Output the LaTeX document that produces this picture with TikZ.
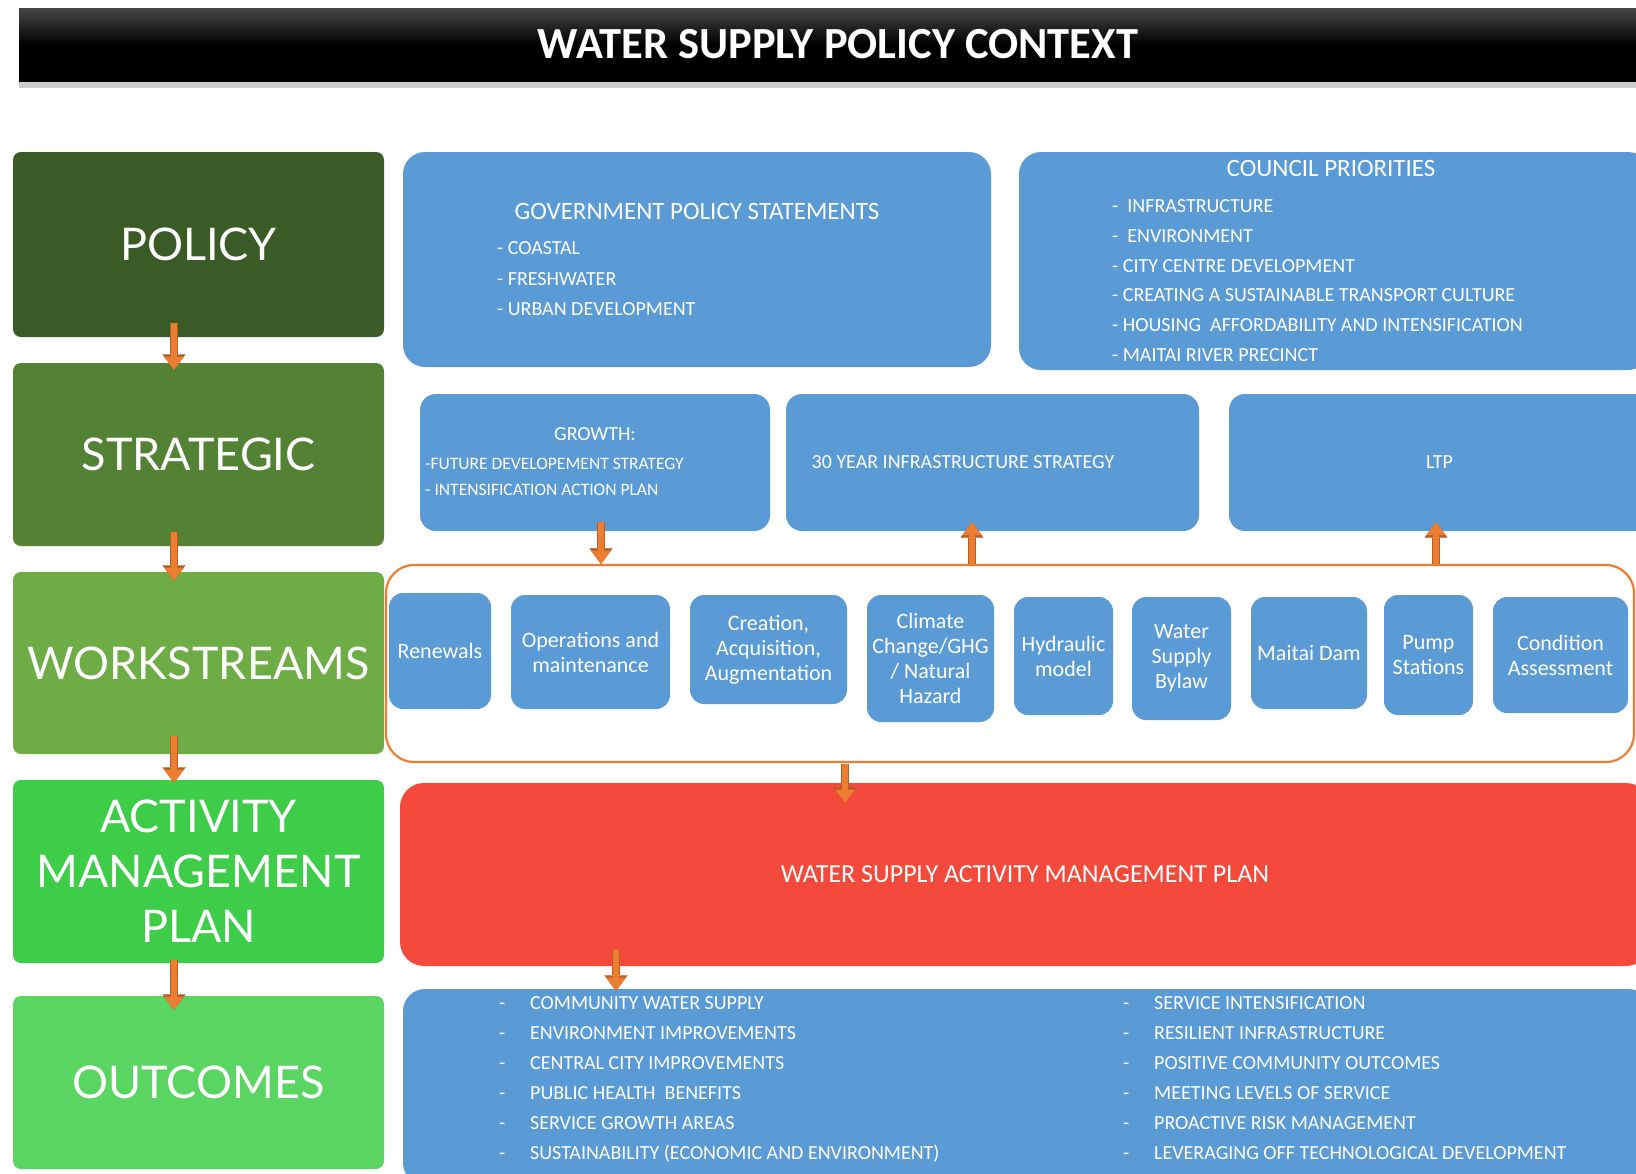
\documentclass[tikz,border=0pt]{standalone}
\usepackage{fontspec}
\setmainfont{Carlito}
\newfontfamily\gillfont{Lato}
\usetikzlibrary{arrows.meta, shadows, positioning}

\definecolor{wsblue}{HTML}{5B9BD5}
\definecolor{policygreen}{HTML}{3A5A26}
\definecolor{strategicgreen}{HTML}{548235}
\definecolor{workgreen}{HTML}{6EAD46}
\definecolor{ampgreen}{HTML}{3ECD48}
\definecolor{outgreen}{HTML}{5AD561}
\definecolor{planred}{HTML}{F44A3C}
\definecolor{flowor}{HTML}{ED7D31}
\definecolor{flowdark}{HTML}{B55D22}

\tikzstyle{titlebar}=[top color=black!72, bottom color=black, middle color=black, text=white, inner sep=0pt, minimum width=1638pt, minimum height=73pt, font=\bfseries\fontsize{44.5}{50}\selectfont, drop shadow={shadow xshift=0pt, shadow yshift=-7pt, opacity=0.2, fill=black}]
\tikzstyle{level}=[rounded corners=8pt, text=white, font=\gillfont\fontsize{45}{55}\selectfont, align=center, minimum width=371pt, inner sep=0pt]
\tikzstyle{panel}=[fill=wsblue, rounded corners=22pt, inner sep=0pt, text=white, font=\fontsize{20}{24}\selectfont]
\tikzstyle{stream}=[fill=wsblue, rounded corners=14pt, text=white, font=\fontsize{22}{25}\selectfont, align=center, inner sep=0pt]
\tikzstyle{ptext}=[text=white, inner sep=0pt, text height=13pt, text depth=0pt, font=\fontsize{20}{24}\selectfont]
\tikzstyle{flow}=[draw=flowor, line width=6pt, -{Triangle[width=19pt, length=13pt, line width=0.1pt]},
    preaction={draw=flowdark, line width=8.5pt, -{Triangle[width=23pt, length=15.5pt, line width=0.1pt]}}]

\begin{document}
\begin{tikzpicture}[x=1pt, y=-1pt]
    \useasboundingbox (0,0) rectangle (1636,1173);
    \node [titlebar] (title) at (838,44.5) {WATER SUPPLY POLICY CONTEXT};

    \node [level, fill=policygreen, minimum height=185pt] (policy) at (198.5,244.5) {POLICY};
    \node [level, fill=strategicgreen, minimum height=183pt] (strategic) at (198.5,454.5) {STRATEGIC};
    \node [level, fill=workgreen, minimum height=182pt] (workstreams) at (198.5,663) {WORKSTREAMS};
    \node [level, fill=ampgreen, minimum height=183pt] (amp) at (198.5,871.5) {ACTIVITY\\MANAGEMENT\\PLAN};
    \node [level, fill=outgreen, minimum height=173pt] (outcomes) at (198.5,1082.5) {OUTCOMES};

    \node [panel, minimum width=588pt, minimum height=215pt] (gps) at (697,259.5) {};
    \node [ptext, font=\fontsize{25}{30}\selectfont] (gpshead) at (697,213) {GOVERNMENT POLICY STATEMENTS};
    \foreach \t [count=\i] in {- COASTAL, - FRESHWATER, - URBAN DEVELOPMENT}
        \node [ptext, anchor=west] (gps\i) at (497,248+30.5*\i-30.5) {\t};

    \node [panel, minimum width=631pt, minimum height=218pt] (council) at (1334.5,261) {};
    \node [ptext, font=\fontsize{25}{30}\selectfont] (councilhead) at (1331,170) {COUNCIL PRIORITIES};
    \foreach \t [count=\i] in {-\ \ INFRASTRUCTURE, -\ \ ENVIRONMENT, - CITY CENTRE DEVELOPMENT,
        - CREATING A SUSTAINABLE TRANSPORT CULTURE, - HOUSING\ \ AFFORDABILITY AND INTENSIFICATION,
        - MAITAI RIVER PRECINCT}
        \node [ptext, anchor=west] (council\i) at (1112,206+29.8*\i-29.8) {\t};

    \node [panel, rounded corners=16pt, minimum width=350pt, minimum height=137pt] (growth) at (595,462.5) {};
    \node [ptext] (growthhead) at (595,434) {GROWTH:};
    \node [ptext, anchor=west, font=\fontsize{17.5}{21}\selectfont] (growth1) at (425,463) {-FUTURE DEVELOPEMENT STRATEGY};
    \node [ptext, anchor=west, font=\fontsize{17.5}{21}\selectfont] (growth2) at (425,489) {- INTENSIFICATION ACTION PLAN};
    \node [panel, rounded corners=16pt, minimum width=413pt, minimum height=137pt] (thirty) at (992.5,462.5) {};
    \node [ptext] (thirtytext) at (963,462) {30 YEAR INFRASTRUCTURE STRATEGY};
    \node [panel, rounded corners=16pt, minimum width=421pt, minimum height=137pt] (ltp) at (1439.5,462.5) {LTP};

    \node [draw=flowor, line width=2.2pt, rounded corners=28pt, minimum width=1248pt, minimum height=197pt] (ws) at (1010,663.5) {};
    \node [stream, minimum width=102pt, minimum height=116pt] (renew) at (440,651) {Renewals};
    \node [stream, minimum width=159pt, minimum height=114pt] (ops) at (590.5,652) {Operations and\\maintenance};
    \node [stream, minimum width=157pt, minimum height=109pt] (create) at (768.5,649.5) {Creation,\\Acquisition,\\Augmentation};
    \node [stream, minimum width=127pt, minimum height=127pt] (climate) at (930.5,658.5) {Climate\\Change/GHG\\/ Natural\\Hazard};
    \node [stream, minimum width=99pt, minimum height=118pt] (hydro) at (1063.5,656) {Hydraulic\\model};
    \node [stream, minimum width=99pt, minimum height=123pt] (bylaw) at (1181.5,658.5) {Water\\Supply\\Bylaw};
    \node [stream, minimum width=116pt, minimum height=112pt] (dam) at (1309,653) {Maitai Dam};
    \node [stream, minimum width=89pt, minimum height=120pt] (pump) at (1428.5,655) {Pump\\Stations};
    \node [stream, minimum width=135pt, minimum height=116pt] (cond) at (1560.5,655) {Condition\\Assessment};

    \node [fill=planred, rounded corners=24pt, minimum width=1250pt, minimum height=183pt, text=white, font=\fontsize{26}{30}\selectfont] (plan) at (1025,874.5) {WATER SUPPLY ACTIVITY MANAGEMENT PLAN};

    \node [panel, minimum width=1247pt, minimum height=196pt] (goals) at (1026.5,1087) {};
    \foreach \t [count=\i] in {COMMUNITY WATER SUPPLY, ENVIRONMENT IMPROVEMENTS, CENTRAL CITY IMPROVEMENTS,
        PUBLIC HEALTH\ \ BENEFITS, SERVICE GROWTH AREAS, SUSTAINABILITY (ECONOMIC AND ENVIRONMENT)}
        \node [ptext, anchor=west] (goalL\i) at (499,1003+30*\i-30) {\makebox[31pt][l]{-}\t};
    \foreach \t [count=\i] in {SERVICE INTENSIFICATION, RESILIENT INFRASTRUCTURE, POSITIVE COMMUNITY OUTCOMES,
        MEETING LEVELS OF SERVICE, PROACTIVE RISK MANAGEMENT, LEVERAGING OFF TECHNOLOGICAL DEVELOPMENT}
        \node [ptext, anchor=west] (goalR\i) at (1123,1003+30*\i-30) {\makebox[31pt][l]{-}\t};

    \draw [flow] ([xshift=-24.5pt,yshift=14pt]policy.south) -- ([xshift=-24.5pt,yshift=-7pt]strategic.north);
    \draw [flow] ([xshift=-24.5pt,yshift=14pt]strategic.south) -- ([xshift=-24.5pt,yshift=-9pt]workstreams.north);
    \draw [flow] ([xshift=-24.5pt,yshift=18pt]workstreams.south) -- ([xshift=-24.5pt,yshift=-3pt]amp.north);
    \draw [flow] ([xshift=-24.5pt,yshift=3pt]amp.south) -- ([xshift=-24.5pt,yshift=-14pt]outcomes.north);
    \draw [flow] ([xshift=6pt,yshift=9pt]growth.south) -- ([xshift=6pt]growth.south |- ws.north);
    \draw [flow] ([xshift=-20.5pt]thirty.south |- ws.north) -- ([xshift=-20.5pt,yshift=9pt]thirty.south);
    \draw [flow] ([xshift=-3.5pt]ltp.south |- ws.north) -- ([xshift=-3.5pt,yshift=9pt]ltp.south);
    \draw [flow] ([xshift=-165pt,yshift=-1pt]ws.south) -- ([xshift=-180pt,yshift=-20pt]plan.north);
    \draw [flow] ([xshift=-409pt,yshift=16pt]plan.south) -- ([xshift=-410.5pt,yshift=-2pt]goals.north);
\end{tikzpicture}
\end{document}
